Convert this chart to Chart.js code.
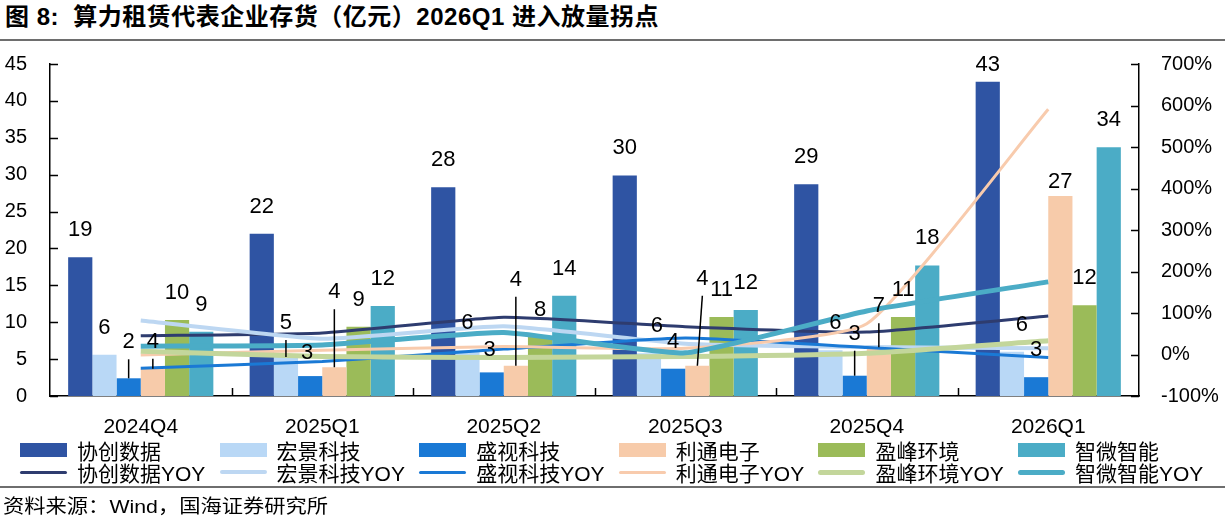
<!DOCTYPE html>
<html lang="zh-CN">
<head>
<meta charset="utf-8">
<title>算力租赁代表企业存货</title>
<script src="https://cdn.jsdelivr.net/npm/chart.js@4.4.1/dist/chart.umd.min.js"></script>
<style>
  html, body { margin: 0; padding: 0; background: #fff; }
  body {
    width: 1225px; height: 529px; position: relative; overflow: hidden;
    font-family: "Liberation Sans", "Noto Sans CJK SC", sans-serif; color: #000;
  }
  #titulo {
    position: absolute; left: 5px; top: 4px; line-height: 26px;
    font-size: 24px; font-weight: bold; white-space: nowrap; letter-spacing: 0.5px;
  }
  .regua { position: absolute; left: 0; width: 1225px; height: 2px; background: #6e6e6e; }
  #chartBox { position: absolute; left: 0; top: 0; width: 1225px; height: 440px; }
  #legenda { position: absolute; left: 0; top: 0; width: 1225px; height: 529px; pointer-events: none; }
  .item {
    position: absolute; height: 22px; display: flex; align-items: center;
    font-size: 21px; white-space: nowrap;
  }
  .amostra { width: 47px; margin-right: 10px; }
  #fonte {
    position: absolute; left: 3px; top: 495px; line-height: 24px;
    font-size: 19px; white-space: nowrap;
    transform: scaleX(1.12); transform-origin: left center;
  }
</style>
</head>
<body>
<div id="titulo">图 8:&nbsp; 算力租赁代表企业存货（亿元）2026Q1 进入放量拐点</div>
<div class="regua" style="top:39px"></div>
<div id="chartBox"><canvas id="grafico"></canvas></div>
<div id="legenda"></div>
<div class="regua" style="top:486px"></div>
<div id="fonte">资料来源：Wind，国海证券研究所</div>

<script>
// Dados (存货 em 亿元, YOY em %)
const trimestres = ['2024Q4', '2025Q1', '2025Q2', '2025Q3', '2025Q4', '2026Q1'];
const empresas = ['协创数据', '宏景科技', '盛视科技', '利通电子', '盈峰环境', '智微智能'];

const estoqueXiechuang = [18.8, 22.0, 28.3, 29.9, 28.7, 42.6];
const estoqueHongjing  = [5.6, 5.3, 6.2, 5.8, 6.2, 6.0];
const estoqueShengshi  = [2.4, 2.7, 3.2, 3.7, 2.75, 2.55];
const estoqueLitong    = [3.7, 3.9, 4.1, 4.1, 6.6, 27.1];
const estoqueYingfeng  = [10.3, 9.4, 8.0, 10.7, 10.7, 12.3];
const estoqueZhiwei    = [8.7, 12.2, 13.6, 11.65, 17.7, 33.7];

const yoyXiechuang = [45, 52, 90, 67, 54, 93];
const yoyHongjing  = [82, 38, 68, 26, 18, 15];
const yoyShengshi  = [-33, -17, 13, 40, 17, -7];
const yoyLitong    = [-1, 10, 19, 15, 74, 591];
const yoyYingfeng  = [8, -5, -7, -5, 3, 33];
const yoyZhiwei    = [20, 23, 53, 4, 105, 175];

const ticksEsquerda = [0, 5, 10, 15, 20, 25, 30, 35, 40, 45];
const ticksDireita = [-100, 0, 100, 200, 300, 400, 500, 600, 700];

const estoques = [estoqueXiechuang, estoqueHongjing, estoqueShengshi, estoqueLitong, estoqueYingfeng, estoqueZhiwei];
const yoys = [yoyXiechuang, yoyHongjing, yoyShengshi, yoyLitong, yoyYingfeng, yoyZhiwei];

// Estilo
const coresBarra = ['#2f54a3', '#b9d8f6', '#1a79d5', '#f7cbaa', '#9bbb59', '#4bacc6'];
const coresLinha = ['#2e3c6f', '#bdd7f2', '#1a79d5', '#f8cbad', '#c3d69b', '#4bacc6'];
const espessuras = [3, 4, 3, 3, 5, 5];

// Ajustes manuais de rótulos: "serie,indice" -> [dx, dy, linha guia]
const ajustesRotulo = {
    '2,0': [0, -9, true],
    '3,0': [0, 0, true],
    '1,1': [0, -7, true],
    '2,1': [-3, 4, false],
    '3,1': [0, -48, true],
    '2,2': [-2, 5, false],
    '3,2': [0, -59, true],
    '1,3': [8, 0, false],
    '3,3': [5, -60, true],
    '1,4': [5, 0, false],
    '2,4': [0, -15, true],
    '3,4': [0, -14, true],
    '0,5': [0, 10, false],
    '1,5': [10, 0, false],
    '3,5': [0, 13, false]
};

// Plugin: valores acima das barras
const rotulosPlugin = {
    id: 'rotulos',
    afterDatasetsDraw(chart) {
        const ctx = chart.ctx;
        ctx.save();
        ctx.font = '22px "Liberation Sans", Arial, sans-serif';
        ctx.fillStyle = '#000';
        ctx.strokeStyle = '#000';
        ctx.lineWidth = 1.5;
        ctx.textAlign = 'center';
        ctx.textBaseline = 'middle';
        chart.data.datasets.forEach((ds, di) => {
            if (ds.type !== 'bar') return;
            const meta = chart.getDatasetMeta(di);
            meta.data.forEach((bar, i) => {
                const aj = ajustesRotulo[di + ',' + i] || [0, 0, false];
                const lx = bar.x + aj[0];
                const ly = bar.y - 27 + aj[1];
                if (aj[2]) {
                    ctx.beginPath();
                    ctx.moveTo(lx, ly + 17);
                    ctx.lineTo(bar.x, bar.y);
                    ctx.stroke();
                }
                ctx.fillText(String(Math.round(ds.data[i])), lx, ly);
            });
        });
        ctx.restore();
    }
};

// Plugin: marcas de escala voltadas para dentro
const marcasPlugin = {
    id: 'marcas',
    afterDraw(chart) {
        const { ctx, chartArea, scales } = chart;
        ctx.save();
        ctx.strokeStyle = '#000';
        ctx.lineWidth = 1.5;
        ctx.beginPath();
        scales.y.ticks.forEach(t => {
            const y = Math.round(scales.y.getPixelForValue(t.value)) + 0.5;
            ctx.moveTo(chartArea.left, y);
            ctx.lineTo(chartArea.left + 8, y);
        });
        scales.y1.ticks.forEach(t => {
            const y = Math.round(scales.y1.getPixelForValue(t.value)) + 0.5;
            ctx.moveTo(chartArea.right - 8, y);
            ctx.lineTo(chartArea.right, y);
        });
        for (let i = 1; i < trimestres.length; i++) {
            const x = Math.round((scales.x.getPixelForValue(i - 1) + scales.x.getPixelForValue(i)) / 2) + 0.5;
            ctx.moveTo(x, chartArea.bottom);
            ctx.lineTo(x, chartArea.bottom - 8);
        }
        ctx.stroke();
        ctx.restore();
    }
};

const datasets = [];
empresas.forEach((nome, k) => {
    datasets.push({
        type: 'bar',
        label: nome,
        data: estoques[k],
        backgroundColor: coresBarra[k],
        borderWidth: 0,
        categoryPercentage: 0.8,
        barPercentage: 1.0,
        yAxisID: 'y',
        order: 10
    });
});
empresas.forEach((nome, k) => {
    datasets.push({
        type: 'line',
        label: nome + 'YOY',
        data: yoys[k],
        borderColor: coresLinha[k],
        backgroundColor: coresLinha[k],
        borderWidth: espessuras[k],
        pointRadius: 0,
        tension: 0.15,
        fill: false,
        yAxisID: 'y1',
        order: 6 - k // a última série fica por cima
    });
});

Chart.defaults.font.family = '"Liberation Sans", "Noto Sans CJK SC", sans-serif';
Chart.defaults.font.size = 20;
Chart.defaults.color = '#000';

const config = {
    data: { labels: trimestres, datasets: datasets },
    options: {
        responsive: true,
        maintainAspectRatio: false,
        animation: false,
        layout: { padding: { top: 64, left: 0, right: 0, bottom: 0 } },
        plugins: {
            legend: { display: false },
            title: { display: false },
            tooltip: { enabled: false }
        },
        scales: {
            x: {
                grid: { display: false },
                border: { display: true, color: '#000', width: 1.5 },
                ticks: { padding: 11, maxRotation: 0, autoSkip: false, font: { size: 21 } },
                afterFit(scale) { scale.height = 44; }
            },
            y: {
                position: 'left',
                min: 0,
                max: 45,
                afterBuildTicks(scale) { scale.ticks = ticksEsquerda.map(v => ({ value: v })); },
                grid: { display: false },
                border: { display: true, color: '#000', width: 1.5 },
                ticks: { padding: 15 },
                afterFit(scale) { scale.width = 50; }
            },
            y1: {
                position: 'right',
                min: -100,
                max: 700,
                afterBuildTicks(scale) { scale.ticks = ticksDireita.map(v => ({ value: v })); },
                grid: { display: false },
                border: { display: true, color: '#000', width: 1.5 },
                ticks: { padding: 14, callback: v => v + '%' },
                afterFit(scale) { scale.width = 86; }
            }
        }
    },
    plugins: [rotulosPlugin, marcasPlugin]
};

new Chart(document.getElementById('grafico'), config);

// Legenda em HTML: 6 colunas, barras em cima e linhas embaixo
const legenda = document.getElementById('legenda');
empresas.forEach((nome, k) => {
    const x = 20 + k * 199.6;
    const barra = document.createElement('div');
    barra.className = 'item';
    barra.style.left = x + 'px';
    barra.style.top = (450 - 11) + 'px';
    barra.innerHTML = '<div class="amostra" style="height:14px;background:' + coresBarra[k] + '"></div>' + nome;
    legenda.appendChild(barra);

    const linha = document.createElement('div');
    linha.className = 'item';
    linha.style.left = x + 'px';
    linha.style.top = (472 - 11) + 'px';
    linha.innerHTML = '<div class="amostra" style="height:' + espessuras[k] + 'px;border-radius:3px;background:' +
        coresLinha[k] + '"></div>' + nome + 'YOY';
    legenda.appendChild(linha);
});
</script>
</body>
</html>
